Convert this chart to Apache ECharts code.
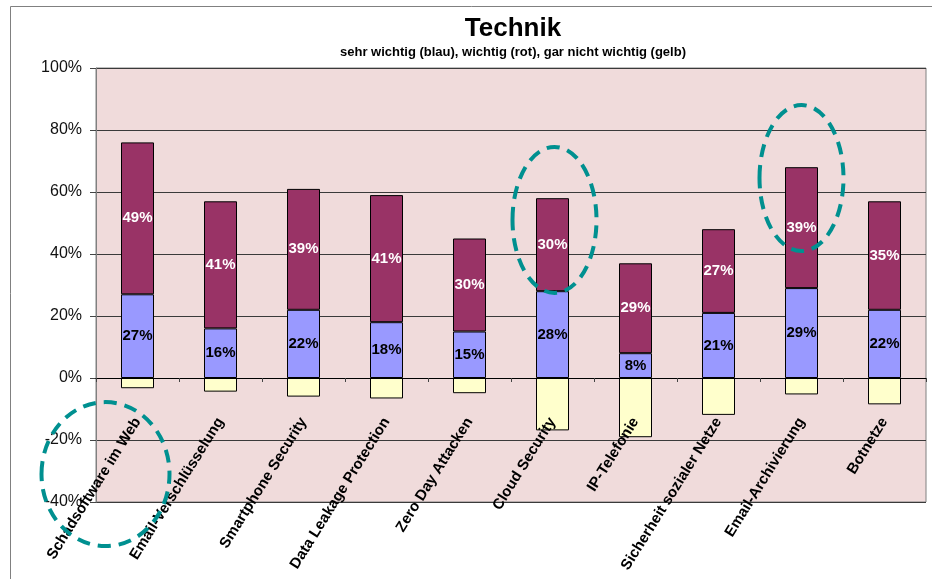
<!DOCTYPE html>
<html>
<head>
<meta charset="utf-8">
<title>Technik</title>
<script src="https://cdn.jsdelivr.net/npm/echarts@6/dist/echarts.min.js"></script>
<style>
	html, body { margin: 0; padding: 0; background: #fff; }
	#chartTechnik { width: 932px; height: 579px; }
</style>
</head>
<body>
<div id="chartTechnik"></div>
<script>
// categories and values (percent)
const categories = [
	'Schadsoftware im Web',
	'Email-Verschlüsselung',
	'Smartphone Security',
	'Data Leakage Protection',
	'Zero Day Attacken',
	'Cloud Security',
	'IP-Telefonie',
	'Sicherheit sozialer Netze',
	'Email-Archivierung',
	'Botnetze',
]
const sehrWichtig = [27, 16, 22, 18, 15, 28, 8, 21, 29, 22]
const wichtig = [49, 41, 39, 41, 30, 30, 29, 27, 39, 35]
const garNichtWichtig = [-3.3, -4.4, -6, -6.6, -4.9, -16.9, -19.1, -11.9, -5.3, -8.5]
const yTicks = [-40, -20, 0, 20, 40, 60, 80, 100]

const FONT = '"Liberation Sans", Arial, sans-serif'

technik = () => {
	var chart = echarts.init(document.getElementById('chartTechnik'))

	const barBase = {
		type: 'bar',
		stack: 'total',
		barWidth: 33,
		itemStyle: {
			borderColor: '#000',
			borderWidth: 1,
		},
	}

	const option = {
		animation: false,
		textStyle: { fontFamily: FONT },
		title: {
			text: 'Technik',
			subtext: 'sehr wichtig (blau), wichtig (rot), gar nicht wichtig (gelb)',
			// centred over the plot area, not the page
			left: 508,
			textAlign: 'center',
			top: 11,
			itemGap: 4,
			textStyle: {
				fontFamily: FONT,
				fontSize: 26,
				fontWeight: 'bold',
				color: '#000',
			},
			subtextStyle: {
				fontFamily: FONT,
				fontSize: 13,
				fontWeight: 'bold',
				color: '#000',
			},
		},
		grid: {
			left: 96,
			top: 68,
			right: 6,
			bottom: 77,
			outerBoundsMode: 'none',
			containLabel: false,
			show: true,
			backgroundColor: '#F0DBDB',
			borderColor: '#808080',
			borderWidth: 1,
		},
		xAxis: {
			type: 'category',
			data: categories,
			z: 10,
			axisLine: {
				onZero: true,
				lineStyle: { color: '#000', width: 1 },
			},
			axisTick: {
				show: true,
				length: 4,
				lineStyle: { color: '#444' },
			},
			axisLabel: {
				rotate: 58,
				// labels hang just under the zero line
				margin: -83,
				interval: 0,
				hideOverlap: false,
				fontFamily: FONT,
				fontSize: 15,
				fontWeight: 'bold',
				color: '#000',
			},
		},
		yAxis: {
			type: 'value',
			min: yTicks[0],
			max: yTicks[yTicks.length - 1],
			interval: 20,
			axisLine: {
				show: true,
				lineStyle: { color: '#808080' },
			},
			axisTick: {
				show: true,
				length: 6,
				lineStyle: { color: '#444' },
			},
			axisLabel: {
				margin: 14,
				fontFamily: FONT,
				fontSize: 16,
				color: '#111',
				formatter: '{value}%',
			},
			splitLine: {
				lineStyle: { color: '#3a3a3a', width: 1 },
			},
		},
		series: [
			{
				...barBase,
				name: 'sehr wichtig',
				data: sehrWichtig,
				itemStyle: { ...barBase.itemStyle, color: '#9999FF' },
				label: {
					show: true,
					position: 'inside',
					formatter: '{c}%',
					fontFamily: FONT,
					fontSize: 15,
					fontWeight: 'bold',
					color: '#000',
				},
			},
			{
				...barBase,
				name: 'wichtig',
				data: wichtig,
				itemStyle: { ...barBase.itemStyle, color: '#993366' },
				label: {
					show: true,
					position: 'inside',
					formatter: '{c}%',
					fontFamily: FONT,
					fontSize: 15,
					fontWeight: 'bold',
					color: '#fff',
				},
			},
			{
				...barBase,
				name: 'gar nicht wichtig',
				data: garNichtWichtig,
				itemStyle: { ...barBase.itemStyle, color: '#FFFFCC' },
			},
		],
	}

	chart.setOption(option)

	// dashed rings drawn on top, placed from the axes
	const rings = [
		{ cat: 0, value: -31, dx: -32, rx: 64, ry: 72 },
		{ cat: 5, value: 51, dx: 2, rx: 42, ry: 73 },
		{ cat: 8, value: 64.5, dx: 0, rx: 42, ry: 73 },
	]

	const graphics = rings.map((r) => {
		const p = chart.convertToPixel({ gridIndex: 0 }, [r.cat, r.value])
		return {
			type: 'ellipse',
			z: 100,
			shape: { cx: p[0] + r.dx, cy: p[1], rx: r.rx, ry: r.ry },
			style: {
				fill: 'none',
				stroke: '#009090',
				lineWidth: 4,
				lineDash: [13, 8],
			},
		}
	})

	// outer chart frame
	graphics.push({
		type: 'rect',
		z: -10,
		shape: { x: 10.5, y: 6.5, width: 940, height: 600 },
		style: { fill: 'none', stroke: '#808080', lineWidth: 1 },
	})

	chart.setOption({ graphic: graphics })
}

technik()
</script>
</body>
</html>
